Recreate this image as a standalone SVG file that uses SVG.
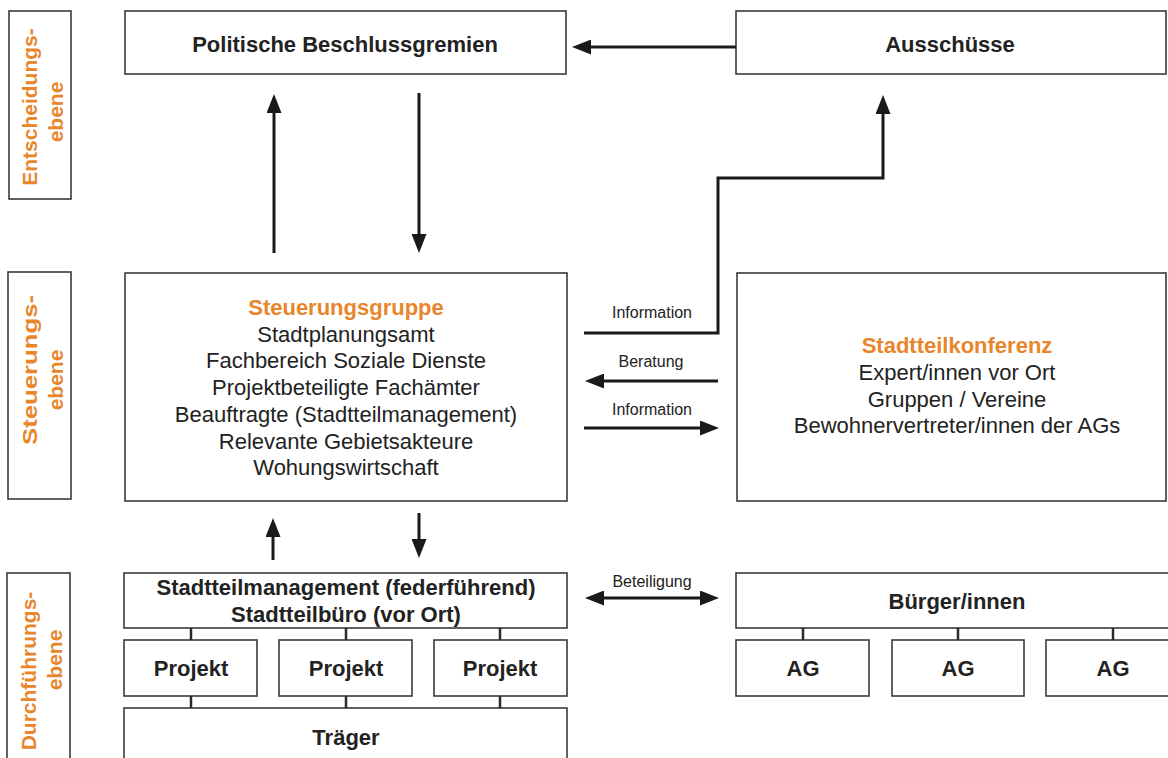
<svg xmlns="http://www.w3.org/2000/svg" width="1168" height="758" viewBox="0 0 1168 758">
<style>
.box{fill:#fff;stroke:#3a3a3a;stroke-width:1.6}
.t{font-family:"Liberation Sans",Arial,sans-serif;fill:#222;text-anchor:middle}
.b{font-weight:bold;font-size:22px}
.r{font-size:22px}
.o{fill:#E8862C}
.lv{font-family:"Liberation Sans",Arial,sans-serif;font-weight:bold;font-size:21px;fill:#E8862C;text-anchor:middle}
.s{font-family:"Liberation Sans",Arial,sans-serif;font-size:16px;fill:#222;text-anchor:middle}
.c{fill:none;stroke:#1a1a1a;stroke-width:3}
.tick{stroke:#2a2a2a;stroke-width:2.5}
</style>
<defs>
<marker id="ah" viewBox="0 0 19 15" refX="10" refY="7.5" markerWidth="19" markerHeight="15" markerUnits="userSpaceOnUse" orient="auto-start-reverse">
<path d="M0,0 L19,7.5 L0,15 z" fill="#1a1a1a"/>
</marker>
</defs>
<rect width="1168" height="758" fill="#fff"/>

<g id="level-entscheidung">
<rect class="box" x="9" y="11" width="62" height="188"/>
<text class="lv" transform="translate(37,107) rotate(-90)">Entscheidungs-</text>
<text class="lv" transform="translate(63,112) rotate(-90)">ebene</text>
</g>
<g id="level-steuerung">
<rect class="box" x="8" y="272" width="63" height="227"/>
<text class="lv" transform="translate(37,370) rotate(-90)" textLength="150" lengthAdjust="spacingAndGlyphs">Steuerungs-</text>
<text class="lv" transform="translate(63,380) rotate(-90)">ebene</text>
</g>
<g id="level-durchfuehrung">
<rect class="box" x="7" y="573" width="63" height="200"/>
<text class="lv" transform="translate(36,671) rotate(-90)">Durchführungs-</text>
<text class="lv" transform="translate(62,660) rotate(-90)">ebene</text>
</g>

<g id="politische">
<rect class="box" x="125" y="11" width="441" height="63"/>
<text class="t b" x="345" y="52">Politische Beschlussgremien</text>
</g>
<g id="ausschuesse">
<rect class="box" x="736" y="11" width="430" height="63"/>
<text class="t b" x="950" y="52">Ausschüsse</text>
</g>

<g id="steuerungsgruppe">
<rect class="box" x="125" y="273" width="442" height="228"/>
<text class="t b o" x="346" y="315">Steuerungsgruppe</text>
<text class="t r" x="346" y="341.7">Stadtplanungsamt</text>
<text class="t r" x="346" y="368.4">Fachbereich Soziale Dienste</text>
<text class="t r" x="346" y="395">Projektbeteiligte Fachämter</text>
<text class="t r" x="346" y="421.8">Beauftragte (Stadtteilmanagement)</text>
<text class="t r" x="346" y="448.5">Relevante Gebietsakteure</text>
<text class="t r" x="346" y="475">Wohungswirtschaft</text>
</g>

<g id="stadtteilkonferenz">
<rect class="box" x="737" y="273" width="429" height="228"/>
<text class="t b o" x="957" y="353">Stadtteilkonferenz</text>
<text class="t r" x="957" y="380">Expert/innen vor Ort</text>
<text class="t r" x="957" y="407">Gruppen / Vereine</text>
<text class="t r" x="957" y="433">Bewohnervertreter/innen der AGs</text>
</g>

<g id="stadtteilmanagement">
<rect class="box" x="124" y="573" width="443" height="55"/>
<text class="t b" x="346" y="595">Stadtteilmanagement (federführend)</text>
<text class="t b" x="346" y="622">Stadtteilbüro (vor Ort)</text>
</g>
<g id="projekt1"><rect class="box" x="124" y="640" width="133" height="56"/><text class="t b" x="191" y="676">Projekt</text></g>
<g id="projekt2"><rect class="box" x="279" y="640" width="133" height="56"/><text class="t b" x="346" y="676">Projekt</text></g>
<g id="projekt3"><rect class="box" x="434" y="640" width="133" height="56"/><text class="t b" x="500" y="676">Projekt</text></g>
<g id="traeger"><rect class="box" x="124" y="708" width="443" height="60"/><text class="t b" x="346" y="745">Träger</text></g>

<g id="buerger">
<rect class="box" x="736" y="573" width="440" height="55"/>
<text class="t b" x="957" y="609">Bürger/innen</text>
</g>
<g id="ag1"><rect class="box" x="736" y="640" width="133" height="56"/><text class="t b" x="803" y="676">AG</text></g>
<g id="ag2"><rect class="box" x="892" y="640" width="132" height="56"/><text class="t b" x="958" y="676">AG</text></g>
<g id="ag3"><rect class="box" x="1046" y="640" width="140" height="56"/><text class="t b" x="1113" y="676">AG</text></g>

<g id="connectors">
<line class="c" x1="736" y1="47" x2="581" y2="47" marker-end="url(#ah)"/>
<line class="c" x1="274" y1="253" x2="274" y2="103" marker-end="url(#ah)"/>
<line class="c" x1="419" y1="93" x2="419" y2="244" marker-end="url(#ah)"/>
<path class="c" d="M584,333 H718 V178 H883 V104" marker-end="url(#ah)"/>
<line class="c" x1="718" y1="381" x2="594" y2="381" marker-end="url(#ah)"/>
<line class="c" x1="584" y1="428" x2="710" y2="428" marker-end="url(#ah)"/>
<line class="c" x1="273" y1="560" x2="273" y2="527" marker-end="url(#ah)"/>
<line class="c" x1="419" y1="513" x2="419" y2="549" marker-end="url(#ah)"/>
<line class="c" x1="594" y1="598" x2="710" y2="598" marker-start="url(#ah)" marker-end="url(#ah)"/>
<line class="tick" x1="191" y1="628" x2="191" y2="640"/>
<line class="tick" x1="346" y1="628" x2="346" y2="640"/>
<line class="tick" x1="500" y1="628" x2="500" y2="640"/>
<line class="tick" x1="191" y1="696" x2="191" y2="708"/>
<line class="tick" x1="346" y1="696" x2="346" y2="708"/>
<line class="tick" x1="500" y1="696" x2="500" y2="708"/>
<line class="tick" x1="803" y1="628" x2="803" y2="640"/>
<line class="tick" x1="958" y1="628" x2="958" y2="640"/>
<line class="tick" x1="1113" y1="628" x2="1113" y2="640"/>
<text class="s" x="652" y="318">Information</text>
<text class="s" x="651" y="367">Beratung</text>
<text class="s" x="652" y="415">Information</text>
<text class="s" x="652" y="587">Beteiligung</text>
</g>
</svg>
